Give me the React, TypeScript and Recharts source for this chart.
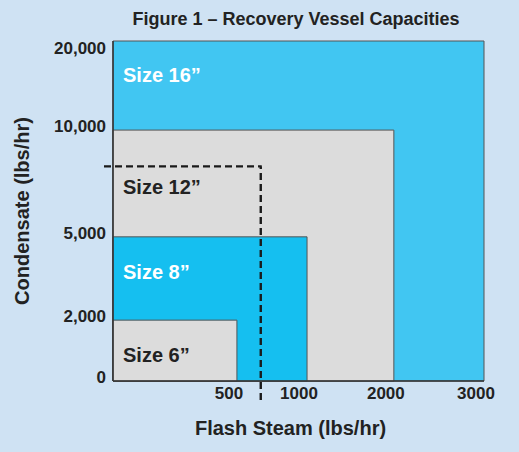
import { ComposedChart, XAxis, YAxis, Scatter, ReferenceArea, ReferenceLine, Label } from 'recharts'

// vessel sizes, smallest first
const sizes = ['Size 6”', 'Size 8”', 'Size 12”', 'Size 16”']
const maxFlashSteam = [500, 1000, 2000, 3000]
const maxCondensate = [2000, 5000, 10000, 20000]

const xTicks = [500, 1000, 2000, 3000]
const yTicks = [0, 2000, 5000, 10000, 20000]

// example selection shown with the dashed line
const exampleFlash = 670
const exampleCondensate = 8300

// the figure is schematic: axis breakpoints are not evenly spaced
const xStops = [0, 500, 1000, 2000, 3000]
const xFracs = [0, 0.334, 0.523, 0.757, 1]
const yStops = [0, 2000, 5000, 10000, 20000]
const yFracs = [0, 0.179, 0.424, 0.738, 1]

const sizeStyle: Record<string, { fill: string; text: string; dy: number }> = {
    'Size 6”': { fill: '#dcdcdc', text: '#222', dy: 35 },
    'Size 8”': { fill: '#15bff0', text: '#fff', dy: 35 },
    'Size 12”': { fill: '#dcdcdc', text: '#222', dy: 57 },
    'Size 16”': { fill: '#41c6f2', text: '#fff', dy: 34 },
}

const FONT = "'Liberation Sans', Arial, Helvetica, sans-serif"

// value -> fraction of axis length (piecewise linear between breakpoints)
function piecewise(stops: number[], fracs: number[], v: number) {
    let i = 1
    while (i < stops.length - 1 && v > stops[i]) i++
    const t = (v - stops[i - 1]) / (stops[i] - stops[i - 1])
    return fracs[i - 1] + t * (fracs[i] - fracs[i - 1])
}
const toX = (v: number) => piecewise(xStops, xFracs, v)
const toY = (v: number) => piecewise(yStops, yFracs, v)

// corner of each vessel's capacity box, in axis units
const corners = sizes.map((name, i) => ({ name, x: toX(maxFlashSteam[i]), y: toY(maxCondensate[i]) }))

const fmt = (v: number) => v.toLocaleString('en-US')

const YTick = ({ x, y, index }: any) => {
    const v = yTicks[index]
    const shift = v === yTicks[yTicks.length - 1] ? 7 : -4
    return (
        <text x={x} y={y + shift} dy="0.355em" textAnchor="end" fill="#222"
            fontSize={17} fontWeight={700} fontFamily={FONT}>
            {fmt(v)}
        </text>
    )
}

const XTick = ({ x, y, index }: any) => (
    <text x={x - 8} y={y} dy="0.71em" textAnchor="middle" fill="#222"
        fontSize={17} fontWeight={700} fontFamily={FONT}>
        {xTicks[index]}
    </text>
)

const SizeLabel = (name: string) => ({ viewBox }: any) => (
    <text x={viewBox.x + 10} y={viewBox.y + sizeStyle[name].dy} dy="0.355em"
        fill={sizeStyle[name].text} fontSize={20} fontWeight={700} fontFamily={FONT}>
        {name}
    </text>
)

// dashed line that runs a little past the axes
const DashedVertical = ({ x1, y1, x2, y2 }: any) => (
    <line x1={x1} y1={Math.max(y1, y2) + 19} x2={x2} y2={Math.min(y1, y2)} stroke="#1a1a1a" strokeWidth={2.4} strokeDasharray="7 4" />
)
const DashedHorizontal = ({ x1, y1, x2, y2 }: any) => (
    <line x1={Math.min(x1, x2) - 9} y1={y1} x2={Math.max(x1, x2) + 1} y2={y2} stroke="#1a1a1a" strokeWidth={2.4} strokeDasharray="7 4" />
)

export default function App() {
    const order = sizes.map((_, i) => i).reverse()
    return (
        <div style={{ position: 'absolute', left: 0, top: 0, width: 519, height: 452, background: '#cfe2f3' }}>
            <div style={{
                position: 'absolute', left: 0, top: 8, width: 592, textAlign: 'center',
                fontFamily: FONT, fontWeight: 700, fontSize: 18, color: '#222', lineHeight: '22px',
            }}>
                Figure 1 – Recovery Vessel Capacities
            </div>
            <ComposedChart width={519} height={452} data={corners} margin={{ top: 41, right: 35, bottom: 41, left: 13 }}
                style={{ position: 'absolute', left: 0, top: 0 }}>
                <XAxis type="number" dataKey="x" domain={[0, 1]} ticks={xTicks.map(toX)}
                    interval={0} height={30} tickSize={0} tickMargin={6} tickLine={false}
                    axisLine={{ stroke: '#333', strokeWidth: 1.5 }} tick={<XTick />}>
                    <Label value="Flash Steam (lbs/hr)" position="bottom" offset={10} dx={-8}
                        fill="#222" fontSize={20} fontWeight={700} fontFamily={FONT} />
                </XAxis>
                <YAxis type="number" dataKey="y" domain={[0, 1]} ticks={yTicks.map(toY)}
                    interval={0} width={100} tickSize={0} tickMargin={7} tickLine={false}
                    axisLine={{ stroke: '#333', strokeWidth: 1.5 }} tick={<YTick />}>
                    <Label content={({ viewBox }: any) => (
                        <text x={viewBox.x + 9} y={viewBox.y + viewBox.height / 2} textAnchor="middle"
                            dominantBaseline="central" fill="#222" fontSize={20} fontWeight={700} fontFamily={FONT}
                            transform={`rotate(-90, ${viewBox.x + 9}, ${viewBox.y + viewBox.height / 2})`}>
                            Condensate (lbs/hr)
                        </text>
                    )} />
                </YAxis>
                {order.map((i) => (
                    <ReferenceArea key={sizes[i]} x1={0} x2={corners[i].x} y1={0} y2={corners[i].y}
                        fill={sizeStyle[sizes[i]].fill} fillOpacity={1} stroke="#555" strokeWidth={1}
                        ifOverflow="visible" label={SizeLabel(sizes[i])} />
                ))}
                <Scatter dataKey="y" fill="none" fillOpacity={0} isAnimationActive={false} />
                <ReferenceLine segment={[{ x: toX(exampleFlash), y: 0 }, { x: toX(exampleFlash), y: toY(exampleCondensate) }]}
                    ifOverflow="visible" shape={<DashedVertical />} />
                <ReferenceLine segment={[{ x: 0, y: toY(exampleCondensate) }, { x: toX(exampleFlash), y: toY(exampleCondensate) }]}
                    ifOverflow="visible" shape={<DashedHorizontal />} />
            </ComposedChart>
        </div>
    )
}
